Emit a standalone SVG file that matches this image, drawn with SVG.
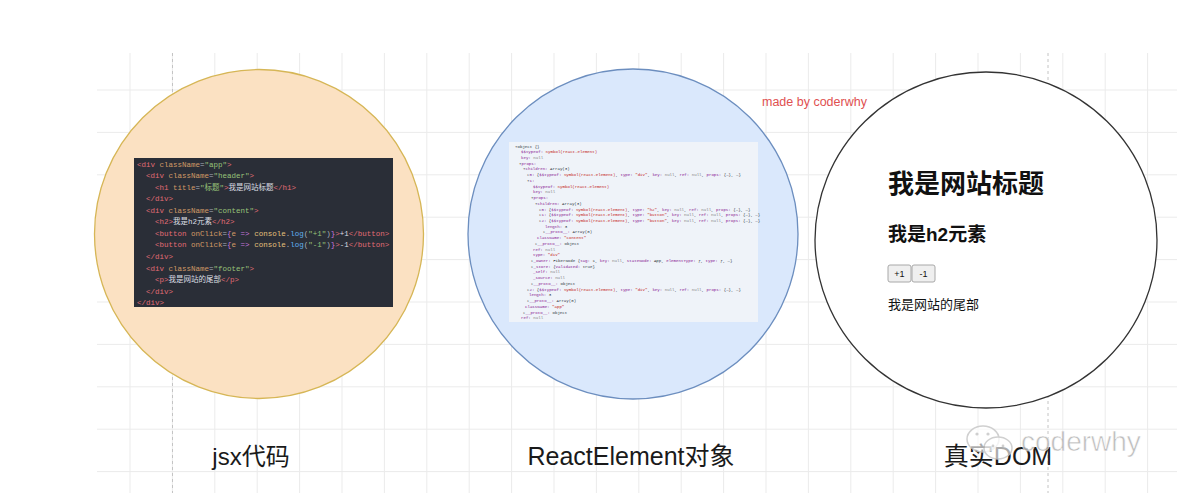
<svg xmlns="http://www.w3.org/2000/svg" width="1200" height="502" viewBox="0 0 1200 502">
<style>
.grid{stroke:#ebebeb;stroke-width:1;fill:none}
.dash{stroke:#c4c4c4;stroke-width:1;stroke-dasharray:3 3;fill:none}
.code{font-family:"Liberation Mono","Noto Sans CJK SC",monospace;font-size:7.5px;fill:#abb2bf;white-space:pre}
.t{fill:#e06c75}.a{fill:#d19a66}.s{fill:#98c379}.k{fill:#c678dd}.y{fill:#e5c07b}.b{fill:#61afef}.w{fill:#dcdfe4}
.dev{font-family:"Liberation Mono",monospace;font-size:4.1px;fill:#303942;white-space:pre}
.pn{fill:#881391}.sv{fill:#c41a16}.nl{fill:#808080}.ar{fill:#6e6e6e}
.lbl{font-family:"Liberation Sans","Noto Sans CJK SC",sans-serif;fill:#1a1a1a;text-anchor:middle}
.dom{font-family:"Liberation Sans","Noto Sans CJK SC",sans-serif;fill:#111}
</style>
<rect x="0" y="0" width="1200" height="502" fill="#ffffff"/>
<g id="grid">
<path class="grid" d="M130 53V493M172.4 53V493M214.8 53V493M257.2 53V493M299.6 53V493M342 53V493M384.4 53V493M426.8 53V493M469.2 53V493M511.6 53V493M554 53V493M596.4 53V493M638.8 53V493M681.2 53V493M723.6 53V493M766 53V493M808.4 53V493M850.8 53V493M893.2 53V493M935.6 53V493M978 53V493M1020.4 53V493M1062.8 53V493M1105.2 53V493M1147.6 53V493M97 90H1177M97 132.4H1177M97 174.8H1177M97 217.2H1177M97 259.6H1177M97 302H1177M97 344.4H1177M97 386.8H1177M97 429.2H1177M97 471.6H1177"/>
<path class="dash" d="M172.5 53V493M1048 53V493"/>
</g>
<g id="node-jsx">
<circle cx="259" cy="234" r="164.5" fill="#fbe1c2" stroke="#d6b656" stroke-width="1.3"/>
<rect x="134" y="158" width="259" height="149" fill="#2a2e37"/>
<text class="code">
<tspan x="137" y="166.5"><tspan class="t">&lt;div</tspan> <tspan class="a">className</tspan>=<tspan class="s">"app"</tspan><tspan class="t">&gt;</tspan></tspan>
<tspan x="146" y="178.1"><tspan class="t">&lt;div</tspan> <tspan class="a">className</tspan>=<tspan class="s">"header"</tspan><tspan class="t">&gt;</tspan></tspan>
<tspan x="155" y="189.6"><tspan class="t">&lt;h1</tspan> <tspan class="a">title</tspan>=<tspan class="s">"标题"</tspan><tspan class="t">&gt;</tspan><tspan class="w">我是网站标题</tspan><tspan class="t">&lt;/h1&gt;</tspan></tspan>
<tspan x="146" y="201.2"><tspan class="t">&lt;/div&gt;</tspan></tspan>
<tspan x="146" y="212.7"><tspan class="t">&lt;div</tspan> <tspan class="a">className</tspan>=<tspan class="s">"content"</tspan><tspan class="t">&gt;</tspan></tspan>
<tspan x="155" y="224.3"><tspan class="t">&lt;h2&gt;</tspan><tspan class="w">我是h2元素</tspan><tspan class="t">&lt;/h2&gt;</tspan></tspan>
<tspan x="155" y="235.9"><tspan class="t">&lt;button</tspan> <tspan class="a">onClick</tspan>=<tspan class="k">{</tspan><tspan class="a">e</tspan> <tspan class="k">=&gt;</tspan> <tspan class="y">console</tspan>.<tspan class="b">log</tspan>(<tspan class="s">"+1"</tspan>)<tspan class="k">}</tspan><tspan class="t">&gt;</tspan><tspan class="w">+1</tspan><tspan class="t">&lt;/button&gt;</tspan></tspan>
<tspan x="155" y="247.4"><tspan class="t">&lt;button</tspan> <tspan class="a">onClick</tspan>=<tspan class="k">{</tspan><tspan class="a">e</tspan> <tspan class="k">=&gt;</tspan> <tspan class="y">console</tspan>.<tspan class="b">log</tspan>(<tspan class="s">"-1"</tspan>)<tspan class="k">}</tspan><tspan class="t">&gt;</tspan><tspan class="w">-1</tspan><tspan class="t">&lt;/button&gt;</tspan></tspan>
<tspan x="146" y="259"><tspan class="t">&lt;/div&gt;</tspan></tspan>
<tspan x="146" y="270.5"><tspan class="t">&lt;div</tspan> <tspan class="a">className</tspan>=<tspan class="s">"footer"</tspan><tspan class="t">&gt;</tspan></tspan>
<tspan x="155" y="282.1"><tspan class="t">&lt;p&gt;</tspan><tspan class="w">我是网站的尾部</tspan><tspan class="t">&lt;/p&gt;</tspan></tspan>
<tspan x="146" y="293.7"><tspan class="t">&lt;/div&gt;</tspan></tspan>
<tspan x="137" y="305.2"><tspan class="t">&lt;/div&gt;</tspan></tspan>
</text>
</g>
<g id="node-react-element">
<circle cx="633" cy="234" r="165" fill="#dae8fc" stroke="#6c8ebf" stroke-width="1.3"/>
<rect x="509" y="142" width="249" height="180" fill="#eff3f9"/>
<text class="dev">
<tspan x="515" y="147.5"><tspan class="ar">▾</tspan>Object {}</tspan>
<tspan x="521" y="153.2"><tspan class="pn">$$typeof:</tspan> <tspan class="sv">Symbol(react.element)</tspan></tspan>
<tspan x="521" y="158.9"><tspan class="pn">key:</tspan> <tspan class="nl">null</tspan></tspan>
<tspan x="519" y="164.7"><tspan class="ar">▾</tspan><tspan class="pn">props:</tspan></tspan>
<tspan x="523" y="170.4"><tspan class="ar">▾</tspan><tspan class="pn">children:</tspan> Array(3)</tspan>
<tspan x="527" y="176.1"><tspan class="ar">▸</tspan><tspan class="pn">0:</tspan> {<tspan class="pn">$$typeof:</tspan> <tspan class="sv">Symbol(react.element)</tspan>, <tspan class="pn">type:</tspan> <tspan class="sv">"div"</tspan>, <tspan class="pn">key:</tspan> <tspan class="nl">null</tspan>, <tspan class="pn">ref:</tspan> <tspan class="nl">null</tspan>, <tspan class="pn">props:</tspan> {…}, …}</tspan>
<tspan x="527" y="181.8"><tspan class="ar">▾</tspan><tspan class="pn">1:</tspan></tspan>
<tspan x="533" y="187.6"><tspan class="pn">$$typeof:</tspan> <tspan class="sv">Symbol(react.element)</tspan></tspan>
<tspan x="533" y="193.3"><tspan class="pn">key:</tspan> <tspan class="nl">null</tspan></tspan>
<tspan x="531" y="199"><tspan class="ar">▾</tspan><tspan class="pn">props:</tspan></tspan>
<tspan x="535" y="204.7"><tspan class="ar">▾</tspan><tspan class="pn">children:</tspan> Array(3)</tspan>
<tspan x="539" y="210.5"><tspan class="ar">▸</tspan><tspan class="pn">0:</tspan> {<tspan class="pn">$$typeof:</tspan> <tspan class="sv">Symbol(react.element)</tspan>, <tspan class="pn">type:</tspan> <tspan class="sv">"h2"</tspan>, <tspan class="pn">key:</tspan> <tspan class="nl">null</tspan>, <tspan class="pn">ref:</tspan> <tspan class="nl">null</tspan>, <tspan class="pn">props:</tspan> {…}, …}</tspan>
<tspan x="539" y="216.2"><tspan class="ar">▸</tspan><tspan class="pn">1:</tspan> {<tspan class="pn">$$typeof:</tspan> <tspan class="sv">Symbol(react.element)</tspan>, <tspan class="pn">type:</tspan> <tspan class="sv">"button"</tspan>, <tspan class="pn">key:</tspan> <tspan class="nl">null</tspan>, <tspan class="pn">ref:</tspan> <tspan class="nl">null</tspan>, <tspan class="pn">props:</tspan> {…}, …}</tspan>
<tspan x="539" y="221.9"><tspan class="ar">▸</tspan><tspan class="pn">2:</tspan> {<tspan class="pn">$$typeof:</tspan> <tspan class="sv">Symbol(react.element)</tspan>, <tspan class="pn">type:</tspan> <tspan class="sv">"button"</tspan>, <tspan class="pn">key:</tspan> <tspan class="nl">null</tspan>, <tspan class="pn">ref:</tspan> <tspan class="nl">null</tspan>, <tspan class="pn">props:</tspan> {…}, …}</tspan>
<tspan x="545" y="227.6"><tspan class="pn">length:</tspan> 3</tspan>
<tspan x="543" y="233.4"><tspan class="ar">▸</tspan><tspan class="pn">__proto__:</tspan> Array(0)</tspan>
<tspan x="537" y="239.1"><tspan class="pn">className:</tspan> <tspan class="sv">"content"</tspan></tspan>
<tspan x="535" y="244.8"><tspan class="ar">▸</tspan><tspan class="pn">__proto__:</tspan> Object</tspan>
<tspan x="533" y="250.5"><tspan class="pn">ref:</tspan> <tspan class="nl">null</tspan></tspan>
<tspan x="533" y="256.3"><tspan class="pn">type:</tspan> <tspan class="sv">"div"</tspan></tspan>
<tspan x="531" y="262"><tspan class="ar">▸</tspan><tspan class="pn">_owner:</tspan> FiberNode {<tspan class="pn">tag:</tspan> 1, <tspan class="pn">key:</tspan> <tspan class="nl">null</tspan>, <tspan class="pn">stateNode:</tspan> App, <tspan class="pn">elementType:</tspan> ƒ, <tspan class="pn">type:</tspan> ƒ, …}</tspan>
<tspan x="531" y="267.7"><tspan class="ar">▸</tspan><tspan class="pn">_store:</tspan> {<tspan class="pn">validated:</tspan> true}</tspan>
<tspan x="533" y="273.4"><tspan class="pn">_self:</tspan> <tspan class="nl">null</tspan></tspan>
<tspan x="533" y="279.2"><tspan class="pn">_source:</tspan> <tspan class="nl">null</tspan></tspan>
<tspan x="531" y="284.9"><tspan class="ar">▸</tspan><tspan class="pn">__proto__:</tspan> Object</tspan>
<tspan x="527" y="290.6"><tspan class="ar">▸</tspan><tspan class="pn">2:</tspan> {<tspan class="pn">$$typeof:</tspan> <tspan class="sv">Symbol(react.element)</tspan>, <tspan class="pn">type:</tspan> <tspan class="sv">"div"</tspan>, <tspan class="pn">key:</tspan> <tspan class="nl">null</tspan>, <tspan class="pn">ref:</tspan> <tspan class="nl">null</tspan>, <tspan class="pn">props:</tspan> {…}, …}</tspan>
<tspan x="529" y="296.3"><tspan class="pn">length:</tspan> 3</tspan>
<tspan x="527" y="302.1"><tspan class="ar">▸</tspan><tspan class="pn">__proto__:</tspan> Array(0)</tspan>
<tspan x="525" y="307.8"><tspan class="pn">className:</tspan> <tspan class="sv">"app"</tspan></tspan>
<tspan x="523" y="313.5"><tspan class="ar">▸</tspan><tspan class="pn">__proto__:</tspan> Object</tspan>
<tspan x="521" y="319.2"><tspan class="pn">ref:</tspan> <tspan class="nl">null</tspan></tspan>
</text>
</g>
<g id="node-real-dom">
<ellipse cx="986" cy="240" rx="171" ry="168" fill="#ffffff" stroke="#333333" stroke-width="1.3"/>
<text class="dom" x="888" y="193" font-size="26" font-weight="bold">我是网站标题</text>
<text class="dom" x="888" y="241" font-size="19" font-weight="bold">我是h2元素</text>
<rect x="888" y="265" width="23" height="17" rx="2" fill="#efefef" stroke="#a8a8a8"/>
<rect x="912" y="265" width="23" height="17" rx="2" fill="#efefef" stroke="#a8a8a8"/>
<text class="dom" x="899.5" y="277" font-size="9" text-anchor="middle">+1</text>
<text class="dom" x="923.5" y="277" font-size="9" text-anchor="middle">-1</text>
<text class="dom" x="888" y="309" font-size="13" fill="#222">我是网站的尾部</text>
</g>
<g id="made-by">
<text x="762" y="106" font-family="Liberation Sans, sans-serif" font-size="12.5" fill="#e05050">made by coderwhy</text>
</g>
<g id="label-jsx"><text class="lbl" x="251" y="465" font-size="24">jsx代码</text></g>
<g id="label-react"><text class="lbl" x="631" y="465" font-size="25">ReactElement对象</text></g>
<g id="label-dom"><text class="lbl" x="998" y="465" font-size="25">真实DOM</text></g>
<g id="watermark" opacity="0.85">
<ellipse cx="983" cy="439" rx="16" ry="13" fill="#ffffff" fill-opacity="0.75" stroke="#c8c8c8" stroke-width="1.5"/>
<ellipse cx="998" cy="448" rx="14" ry="11" fill="#ffffff" fill-opacity="0.75" stroke="#c8c8c8" stroke-width="1.5"/>
<circle cx="977" cy="434" r="1.6" fill="#c8c8c8"/>
<circle cx="988" cy="434" r="1.6" fill="#c8c8c8"/>
<circle cx="993" cy="446" r="1.4" fill="#c8c8c8"/>
<circle cx="1003" cy="446" r="1.4" fill="#c8c8c8"/>
<text x="1021" y="451" font-family="Liberation Sans, sans-serif" font-size="28" fill="#b4b4b4" stroke="#ffffff" stroke-width="0.6">coderwhy</text>
</g>
</svg>
